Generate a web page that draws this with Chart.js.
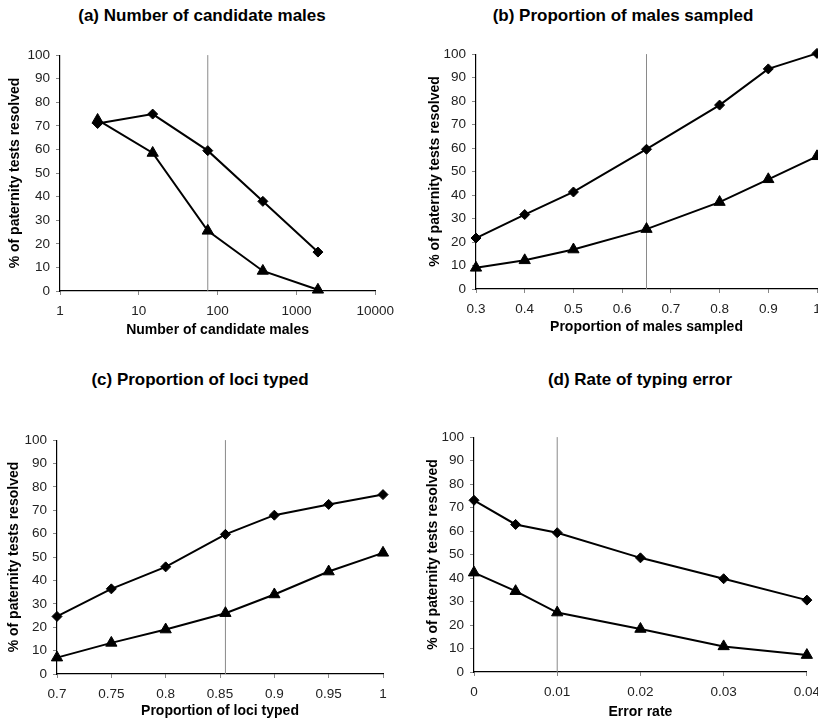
<!DOCTYPE html>
<html>
<head>
<meta charset="utf-8">
<script src="https://cdn.jsdelivr.net/npm/chart.js@4"></script>
<style>
  html, body { margin: 0; padding: 0; background: #fff; overflow: hidden; width: 818px; height: 720px; }
  .box { position: absolute; }
  .ttl { position: absolute; font: bold 17px "Liberation Sans", Arial, sans-serif; color: #000; white-space: nowrap; transform: translate(-50%, -50%); }
</style>
</head>
<body>
<div class="ttl" style="left:202px; top:16px;">(a) Number of candidate males</div>
<div class="ttl" style="left:623px; top:16px;">(b) Proportion of males sampled</div>
<div class="ttl" style="left:200px; top:380px;">(c) Proportion of loci typed</div>
<div class="ttl" style="left:640px; top:380px;">(d) Rate of typing error</div>

<div class="box" style="left:0px; top:41px; width:402px; height:300px;"><canvas id="chartA"></canvas></div>
<div class="box" style="left:416px; top:40px; width:421px; height:299px;"><canvas id="chartB"></canvas></div>
<div class="box" style="left:0px; top:426px; width:403px; height:294px;"><canvas id="chartC"></canvas></div>
<div class="box" style="left:414px; top:423px; width:414px; height:298px;"><canvas id="chartD"></canvas></div>

<script>
// (a) number of candidate males
const xA = [3, 15, 75, 375, 1875];
const diamondA = [71, 75, 59.5, 38, 16.5];
const triangleA = [72.5, 58.5, 25.5, 8.5, 0.5];
const refA = 75;
const xTicksA = [1, 10, 100, 1000, 10000];

// (b) proportion of males sampled
const xB = [0.3, 0.4, 0.5, 0.65, 0.8, 0.9, 1];
const diamondB = [21.7, 31.7, 41.3, 59.5, 78.3, 93.7, 100.3];
const triangleB = [9, 12.2, 16.8, 25.5, 37, 46.7, 56.5];
const refB = 0.65;
const xTicksB = [0.3, 0.4, 0.5, 0.6, 0.7, 0.8, 0.9, 1];

// (c) proportion of loci typed
const xC = [0.7, 0.75, 0.8, 0.855, 0.9, 0.95, 1];
const diamondC = [24.6, 36.4, 45.8, 59.7, 67.9, 72.5, 76.7];
const triangleC = [7, 13.3, 19, 26, 34, 43.8, 51.8];
const refC = 0.855;
const xTicksC = [0.7, 0.75, 0.8, 0.85, 0.9, 0.95, 1];

// (d) rate of typing error
const xD = [0, 0.005, 0.01, 0.02, 0.03, 0.04];
const diamondD = [73.1, 62.8, 59.3, 48.6, 39.7, 30.6];
const triangleD = [42.3, 34.4, 25.3, 18.3, 10.9, 7.2];
const refD = 0.01;
const xTicksD = [0, 0.01, 0.02, 0.03, 0.04];

const yTicks = [0, 10, 20, 30, 40, 50, 60, 70, 80, 90, 100];
const yTitle = '% of paternity tests resolved';

const FONT = '"Liberation Sans", Arial, sans-serif';

function pts(xs, ys) {
  return xs.map((x, i) => ({ x: x, y: ys[i] }));
}

function makeConfig(p) {
  return {
    type: 'scatter',
    data: {
      datasets: [
        {
          label: 'ref',
          data: [{ x: p.ref, y: 0 }, { x: p.ref, y: 100 }],
          showLine: true,
          borderColor: '#8a8a8a',
          borderWidth: 1,
          pointRadius: 0,
          order: 10
        },
        {
          label: 'diamond',
          data: pts(p.xs, p.d),
          showLine: true,
          borderColor: '#000',
          borderWidth: 2,
          pointStyle: 'rectRot',
          pointRadius: 5,
          backgroundColor: '#000',
          pointBorderWidth: 1,
          clip: false,
          order: 1
        },
        {
          label: 'triangle',
          data: pts(p.xs, p.t),
          showLine: true,
          borderColor: '#000',
          borderWidth: 2,
          pointStyle: 'triangle',
          pointRadius: 6.5,
          backgroundColor: '#000',
          pointBorderWidth: 1,
          clip: false,
          order: 0
        }
      ]
    },
    options: {
      responsive: true,
      maintainAspectRatio: false,
      animation: false,
      layout: { padding: { left: 0, right: 20, top: 10, bottom: 0 } },
      plugins: { legend: { display: false }, tooltip: { enabled: false }, title: { display: false } },
      scales: {
        x: {
          type: p.logX ? 'logarithmic' : 'linear',
          min: p.xTicks[0],
          max: p.xTicks[p.xTicks.length - 1],
          afterBuildTicks: (s) => { s.ticks = p.xTicks.map(v => ({ value: v })); },
          afterFit: (s) => { s.height = p.xH; },
          grid: { drawOnChartArea: false, drawTicks: true, tickLength: 4, color: '#888' },
          border: { display: true, color: '#000', width: 1.2 },
          ticks: {
            autoSkip: false, maxRotation: 0, padding: 8, color: '#222',
            font: { family: FONT, size: 13.5 },
            callback: (v) => String(v)
          },
          title: {
            display: true, text: p.xTitle, color: '#000',
            font: { family: FONT, size: 14, weight: 'bold' },
            padding: { top: 0, bottom: p.xTitlePad }
          }
        },
        y: {
          min: 0, max: 100,
          afterBuildTicks: (s) => { s.ticks = yTicks.map(v => ({ value: v })); },
          afterFit: (s) => { s.width = p.yW; },
          grid: { drawOnChartArea: false, drawTicks: true, tickLength: 4, color: '#888' },
          border: { display: true, color: '#000', width: 1.2 },
          ticks: {
            padding: 6, color: '#222',
            font: { family: FONT, size: 13.5 },
            callback: (v) => String(v)
          },
          title: {
            display: true, text: yTitle, color: '#000',
            font: { family: FONT, size: 14, weight: 'bold' },
            padding: { top: p.yTitlePad, bottom: 0 }
          }
        }
      }
    }
  };
}

const configA = makeConfig({ xs: xA, d: diamondA, t: triangleA, ref: refA, xTicks: xTicksA, logX: true,
  xTitle: 'Number of candidate males', yW: 60, xH: 50, xTitlePad: 2, yTitlePad: 7 });
const configB = makeConfig({ xs: xB, d: diamondB, t: triangleB, ref: refB, xTicks: xTicksB,
  xTitle: 'Proportion of males sampled', yW: 60, xH: 50, xTitlePad: 3, yTitlePad: 11 });
const configC = makeConfig({ xs: xC, d: diamondC, t: triangleC, ref: refC, xTicks: xTicksC,
  xTitle: 'Proportion of loci typed', yW: 57, xH: 46, xTitlePad: 0, yTitlePad: 6 });
const configD = makeConfig({ xs: xD, d: diamondD, t: triangleD, ref: refD, xTicks: xTicksD,
  xTitle: 'Error rate', yW: 60, xH: 49, xTitlePad: 0, yTitlePad: 11 });

var chartA = new Chart(document.getElementById('chartA'), configA);
var chartB = new Chart(document.getElementById('chartB'), configB);
var chartC = new Chart(document.getElementById('chartC'), configC);
var chartD = new Chart(document.getElementById('chartD'), configD);
</script>
</body>
</html>
